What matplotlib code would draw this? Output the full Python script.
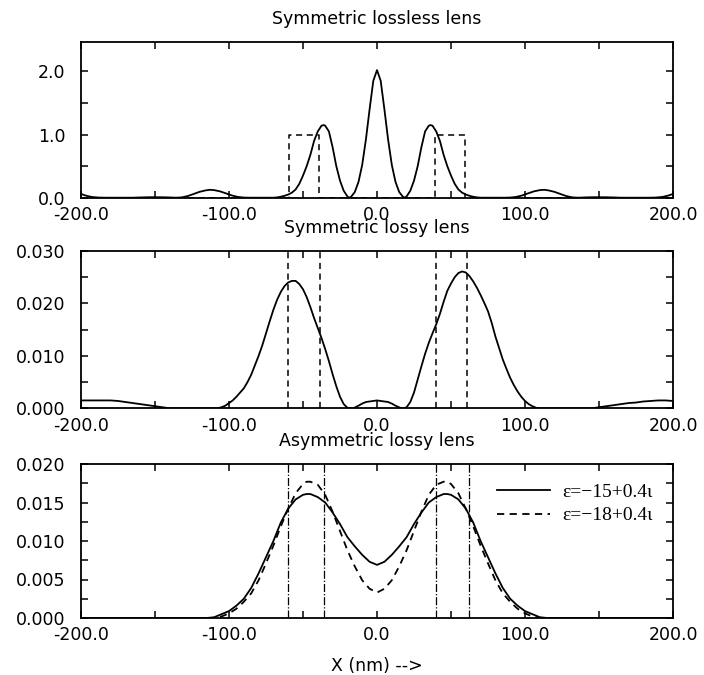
import matplotlib
matplotlib.use('Agg')
import matplotlib.pyplot as plt
from matplotlib.ticker import MultipleLocator, FuncFormatter
from matplotlib.font_manager import FontProperties

# ---------------- data ----------------
titles = ["Symmetric lossless lens", "Symmetric lossy lens", "Asymmetric lossy lens"]
xlabel_text = "X (nm) -->"

# Panel 1: lossless lens intensity
x1 = [-200, -197, -193, -188, -183, -165, -160, -155, -150, -145, -140, -136,
      -132, -128, -124, -120, -116, -113, -110, -106, -102, -98, -94, -90, -86,
      -72, -70, -67.5, -65, -62.5, -60, -57.5, -55, -52.5, -50, -47.5, -45, -42.5,
      -40, -37.5, -36, -35, -32.5, -30, -27.5, -25, -22.5, -20, -19,
      -17.5, -15, -12.5, -10, -7.5, -5, -2.5, 0,
      2.5, 5, 7.5, 10, 12.5, 15, 17.5,
      19, 20, 22.5, 25, 27.5, 30, 32.5, 35, 36, 37.5, 40,
      42.5, 45, 47.5, 50, 52.5, 55, 57.5, 60, 62.5, 65, 67.5, 70, 72,
      86, 90, 94, 98, 102, 106, 110, 113, 116, 120, 124, 128, 132,
      136, 140, 145, 150, 155, 160, 165, 183, 188, 193, 197, 200]
y1 = [0.06, 0.035, 0.012, 0.002, 0.0, 0.0, 0.004, 0.007, 0.008, 0.007, 0.004, 0.0,
      0.005, 0.025, 0.058, 0.092, 0.115, 0.125, 0.12, 0.10, 0.068, 0.035, 0.012, 0.002, 0.0,
      0.0, 0.0, 0.005, 0.015, 0.03, 0.05, 0.08, 0.13, 0.22, 0.35, 0.5, 0.68, 0.9,
      1.05, 1.14, 1.15, 1.14, 1.05, 0.8, 0.5, 0.27, 0.11, 0.02, 0.0,
      0.015, 0.09, 0.25, 0.52, 0.92, 1.40, 1.85, 2.02,
      1.85, 1.40, 0.92, 0.52, 0.25, 0.09, 0.015,
      0.0, 0.02, 0.11, 0.27, 0.5, 0.8, 1.05, 1.14, 1.15, 1.14, 1.05,
      0.9, 0.68, 0.5, 0.35, 0.22, 0.13, 0.08, 0.05, 0.03, 0.015, 0.005, 0.0, 0.0,
      0.0, 0.002, 0.012, 0.035, 0.068, 0.10, 0.12, 0.125, 0.115, 0.092, 0.058, 0.025, 0.005,
      0.0, 0.004, 0.007, 0.008, 0.007, 0.004, 0.0, 0.0, 0.002, 0.012, 0.035, 0.06]

# Panel 1: lens profile (dashed)
x1_lens = [-200, -59.5, -59.5, -39.5, -39.5, 39.5, 39.5, 59.5, 59.5, 200]
y1_lens = [0, 0, 1, 1, 0, 0, 1, 1, 0, 0]

# Panel 2: lossy symmetric lens intensity
x2 = [-200, -190, -180, -175, -170, -165, -160, -155, -150, -145, -140, -108,
      -105, -102.5, -100, -97.5, -95, -92.5, -90, -87.5, -85, -82.5, -80, -77.5,
      -75, -72.5, -70, -67.5, -65, -62.5, -60, -57.5, -55, -52.5, -50, -47.5,
      -45, -42.5, -40, -37.5, -35, -32.5, -30, -27.5, -25, -22.5, -20, -18, -16,
      -12.5, -10, -7.5, -5, -2.5, 0, 2.5, 5, 7.5, 10, 12.5, 16.5, 18,
      20, 22.5, 25, 27.5, 30, 32.5, 35, 37.5, 40, 42.5, 45, 47.5, 50, 52.5,
      55, 57.5, 60, 62.5, 65, 67.5, 70, 72.5, 75, 77.5, 80, 82.5, 85, 87.5,
      90, 92.5, 95, 97.5, 100, 102.5, 105, 107.5, 110, 145, 150, 155, 160,
      165, 170, 175, 180, 185, 190, 195, 200]
y2 = [0.0015, 0.0015, 0.0015, 0.0014, 0.0012, 0.0010, 0.0008, 0.0006, 0.0004, 0.0002, 0.0, 0.0,
      0.0002, 0.0005, 0.0010, 0.0015, 0.0022, 0.0030, 0.0038, 0.0050, 0.0064, 0.0082, 0.0100, 0.0120,
      0.0143, 0.0166, 0.0188, 0.0207, 0.0222, 0.0233, 0.0240, 0.0243, 0.0243, 0.0237, 0.0227, 0.0212,
      0.0193, 0.0172, 0.0153, 0.0134, 0.0113, 0.0090, 0.0065, 0.0042, 0.0022, 0.0008, 0.0001, 0.0, 0.0,
      0.0005, 0.0009, 0.0012, 0.0013, 0.0014, 0.0015, 0.0014, 0.0013, 0.0012, 0.0009, 0.0005, 0.0, 0.0,
      0.0002, 0.0012, 0.0030, 0.0055, 0.0080, 0.0104, 0.0125, 0.0143, 0.0160, 0.0180, 0.0203, 0.0224, 0.0238, 0.0250,
      0.0258, 0.0261, 0.0259, 0.0252, 0.0242, 0.0230, 0.0216, 0.0201, 0.0185, 0.0163, 0.0137, 0.0115, 0.0093, 0.0075,
      0.0058, 0.0044, 0.0032, 0.0022, 0.0014, 0.0008, 0.0004, 0.0001, 0.0, 0.0, 0.0002, 0.0004, 0.0006,
      0.0008, 0.0010, 0.0011, 0.0013, 0.0014, 0.0015, 0.0015, 0.0014]
x2_edges = [-60, -38.5, 39.6, 61]

# Panel 3: asymmetric lossy lens, two permittivities
x3 = [-200, -160, -115, -110, -105, -100, -95, -90, -85, -80, -75, -70, -65, -60,
      -55, -50, -47.5, -45, -40, -35, -30, -25, -20, -15, -10, -5, 0,
      5, 10, 15, 20, 25, 30, 35, 40, 45, 47.5, 50, 55, 60, 65, 70, 75, 80,
      85, 90, 95, 100, 105, 110, 115, 160, 200]
y3_eps15 = [0.0, 0.0, 0.0, 0.0001, 0.0005, 0.0009, 0.0016, 0.0025, 0.0039, 0.0058, 0.0079, 0.0100, 0.0124, 0.0142,
            0.0154, 0.0160, 0.0161, 0.0161, 0.0157, 0.0150, 0.0137, 0.0122, 0.0105, 0.0093, 0.0082, 0.0073, 0.0069,
            0.0073, 0.0082, 0.0093, 0.0105, 0.0122, 0.0137, 0.0150, 0.0157, 0.0161, 0.0161, 0.0160, 0.0154, 0.0142,
            0.0124, 0.0100, 0.0079, 0.0058, 0.0039, 0.0025, 0.0016, 0.0009, 0.0005, 0.0001, 0.0, 0.0, 0.0]
y3_eps18 = [0.0, 0.0, 0.0, 0.0, 0.0002, 0.0006, 0.0012, 0.0021, 0.0032, 0.0049, 0.0071, 0.0094, 0.0119, 0.0142,
            0.0162, 0.0174, 0.0177, 0.0177, 0.0173, 0.0160, 0.0138, 0.0113, 0.0088, 0.0067, 0.0049, 0.0038, 0.0033,
            0.0038, 0.0049, 0.0067, 0.0088, 0.0113, 0.0138, 0.0160, 0.0173, 0.0177, 0.0177, 0.0174, 0.0162, 0.0142,
            0.0119, 0.0094, 0.0071, 0.0049, 0.0032, 0.0021, 0.0012, 0.0006, 0.0002, 0.0, 0.0, 0.0, 0.0]
x3_edges = [-60, -36, 40, 62]
legend_labels = ["\u03b5=\u221215+0.4\u03b9", "\u03b5=\u221218+0.4\u03b9"]

# ---------------- figure ----------------
plt.rcParams['font.family'] = ['DejaVu Sans']
plt.rcParams['axes.unicode_minus'] = False
FS = 12.5

fig = plt.figure(figsize=(7.04, 6.75), dpi=100)
W, H = 704.0, 675.0
left = 81 / W
width = 592 / W


def ax_at(top, bottom):
    return fig.add_axes([left, 1 - bottom / H, width, (bottom - top) / H])


ax1 = ax_at(41.7, 197.7)
ax2 = ax_at(251, 408.3)
ax3 = ax_at(464, 618)

LW = 1.3


def style(ax, ymax, ymaj, ymin, ydec, title):
    ax.set_xlim(-200, 200)
    ax.set_ylim(0, ymax)
    ax.xaxis.set_major_locator(MultipleLocator(100))
    ax.xaxis.set_minor_locator(MultipleLocator(50))
    ax.yaxis.set_major_locator(MultipleLocator(ymaj))
    ax.yaxis.set_minor_locator(MultipleLocator(ymin))
    ax.xaxis.set_major_formatter(FuncFormatter(lambda v, p: f"{v:.1f}"))
    ax.yaxis.set_major_formatter(FuncFormatter(lambda v, p, d=ydec: f"{v:.{d}f}"))
    ax.tick_params(which='both', direction='in', top=True, right=True,
                   length=5, width=1.1, labelsize=FS)
    ax.tick_params(axis='x', which='both', pad=6)
    ax.tick_params(axis='y', which='both', pad=11)
    for s in ax.spines.values():
        s.set_linewidth(1.3)
    ax.set_title(title, fontsize=FS, pad=13)


# Panel 1
ax1.plot(x1, y1, color='black', lw=LW)
ax1.plot(x1_lens, y1_lens, color='black', lw=1.1, linestyle=(0, (4, 3)))
style(ax1, 2.47, 1.0, 0.5, 1, titles[0])

# Panel 2
ax2.plot(x2, y2, color='black', lw=LW)
for xe in x2_edges:
    ax2.axvline(xe, color='black', lw=1.1, linestyle=(0, (4, 3)))
style(ax2, 0.030, 0.010, 0.005, 3, titles[1])

# Panel 3
l1, = ax3.plot(x3, y3_eps15, color='black', lw=LW)
l2, = ax3.plot(x3, y3_eps18, color='black', lw=LW, linestyle=(0, (4, 3)))
for xe in x3_edges:
    ax3.axvline(xe, color='black', lw=0.9, linestyle='dashdot')
style(ax3, 0.020, 0.005, 0.0025, 3, titles[2])
ax3.set_xlabel(xlabel_text, fontsize=FS, labelpad=9)
ax3.legend([l1, l2], legend_labels, loc='upper right', bbox_to_anchor=(0.966, 0.875),
           frameon=False, borderpad=0, borderaxespad=0, handlelength=2.7,
           handletextpad=0.65, labelspacing=0.3,
           prop=FontProperties(family=['Liberation Serif', 'DejaVu Serif'], size=14))

fig.savefig('out.png', dpi=100)
